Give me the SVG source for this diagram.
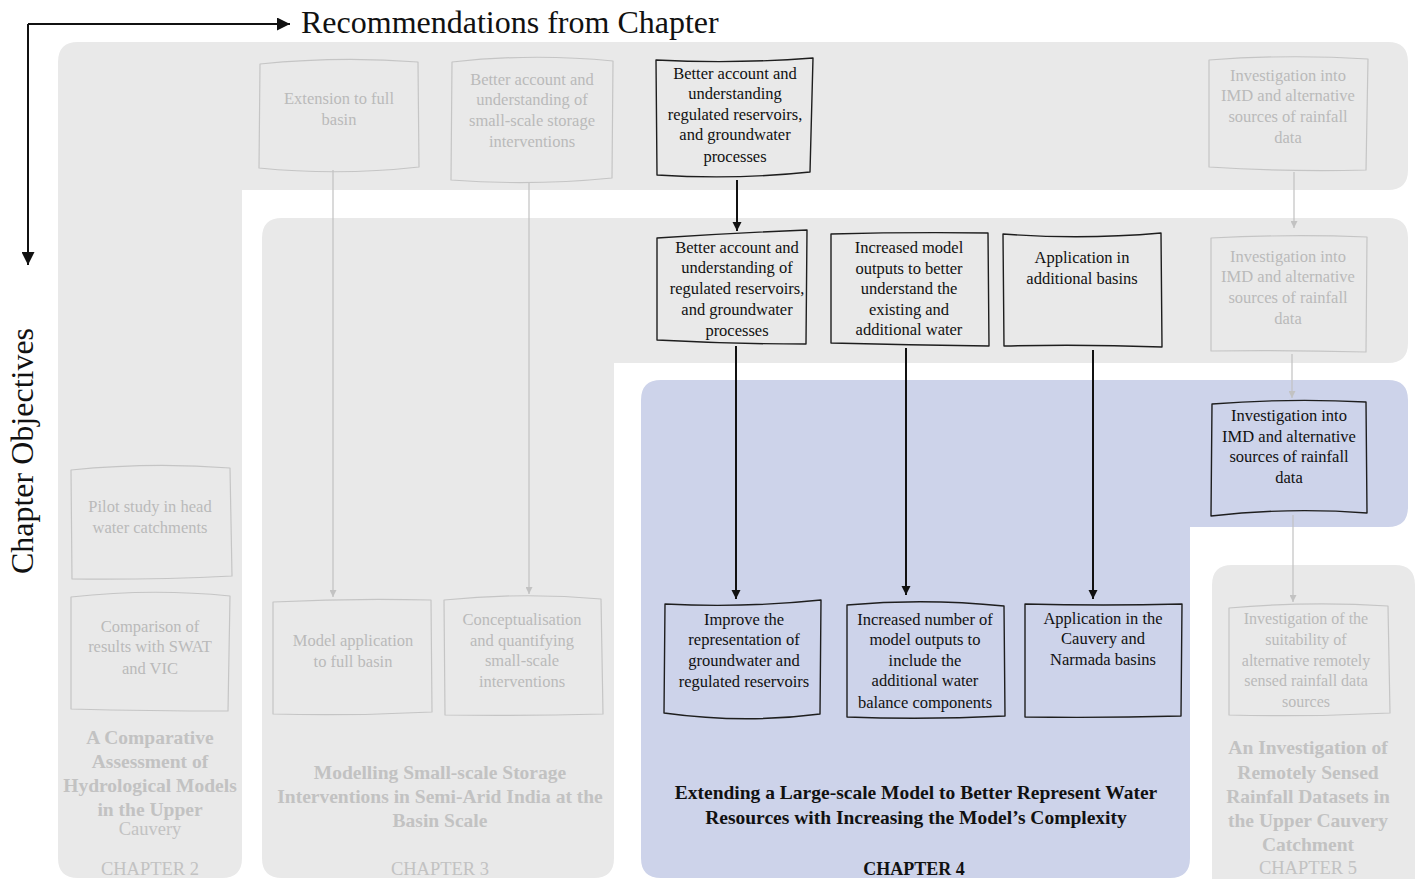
<svg xmlns="http://www.w3.org/2000/svg" width="1419" height="879" viewBox="0 0 1419 879">
  <defs>
    <style>
      .bg { fill: #e9e9e9; }
      .blue { fill: #cdd3ea; }
      .box { fill: none; stroke: #1e1e1e; stroke-width: 1.4; stroke-linejoin: round; }
      .fbox { fill: none; stroke: #c5c5c5; stroke-width: 1.2; stroke-linejoin: round; }
      .t { font-family: 'Liberation Serif', 'Times New Roman', serif; font-size: 16.5px; fill: #111; text-anchor: middle; }
      .ft { font-family: 'Liberation Serif', 'Times New Roman', serif; font-size: 16.5px; fill: #bababa; text-anchor: middle; }
      .ttl { font-family: 'Liberation Serif', 'Times New Roman', serif; font-size: 19.5px; font-weight: bold; fill: #111; text-anchor: middle; }
      .fttl { font-family: 'Liberation Serif', 'Times New Roman', serif; font-size: 19.5px; font-weight: bold; fill: #c2c2c2; text-anchor: middle; }
      .fch { font-family: 'Liberation Serif', 'Times New Roman', serif; font-size: 18.5px; fill: #c2c2c2; text-anchor: middle; }
      .axis { font-family: 'Liberation Serif', 'Times New Roman', serif; font-size: 32px; fill: #111; }
      .dk { stroke: #111; stroke-width: 2; fill: none; }
      .fd { stroke: #c2c2c2; stroke-width: 1.2; fill: none; }
    </style>
    <marker id="hd" viewBox="0 0 10 10" refX="10" refY="5" markerWidth="9" markerHeight="10" markerUnits="userSpaceOnUse" orient="auto">
      <path d="M0,0 L10,5 L0,10 Z" fill="#111"/>
    </marker>
    <marker id="hf" viewBox="0 0 10 10" refX="10" refY="5" markerWidth="7" markerHeight="7" markerUnits="userSpaceOnUse" orient="auto">
      <path d="M0,0 L10,5 L0,10 Z" fill="#c2c2c2"/>
    </marker>
    <marker id="ha" viewBox="0 0 10 10" refX="10" refY="5" markerWidth="14" markerHeight="13" markerUnits="userSpaceOnUse" orient="auto">
      <path d="M0,0 L10,5 L0,10 Z" fill="#111"/>
    </marker>
  </defs>

  <rect width="1419" height="879" fill="#ffffff"/>

  <!-- chapter bands: recommendation row + objective column -->
  <g id="band-ch2">
    <path class="bg" d="M78,42 H1388 Q1408,42 1408,62 V170 Q1408,190 1388,190 H242 V858 Q242,878 222,878 H78 Q58,878 58,858 V62 Q58,42 78,42 Z"/>
  </g>
  <g id="band-ch3">
    <path class="bg" d="M282,218 H1388 Q1408,218 1408,238 V343 Q1408,363 1388,363 H614 V858 Q614,878 594,878 H282 Q262,878 262,858 V238 Q262,218 282,218 Z"/>
  </g>
  <g id="band-ch4">
    <path class="blue" d="M661,380 H1388 Q1408,380 1408,400 V507 Q1408,527 1388,527 H1190 V858 Q1190,878 1170,878 H661 Q641,878 641,858 V400 Q641,380 661,380 Z"/>
  </g>
  <g id="band-ch5">
    <path class="bg" d="M1232,565 H1395 Q1415,565 1415,585 V879 H1212 V585 Q1212,565 1232,565 Z"/>
  </g>

  <!-- axes -->
  <g id="axes">
    <path class="dk" d="M28,24 H290" marker-end="url(#ha)"/>
    <path class="dk" d="M28,24 V265" marker-end="url(#ha)"/>
    <text class="axis" x="301" y="33">Recommendations from Chapter</text>
    <text class="axis" transform="translate(33,451) rotate(-90)" text-anchor="middle">Chapter Objectives</text>
  </g>

  <!-- connectors -->
  <g id="connectors">
    <path class="fd" d="M333,170 V597" marker-end="url(#hf)"/>
    <path class="fd" d="M529,182 V594" marker-end="url(#hf)"/>
    <path class="fd" d="M1294,172 V228" marker-end="url(#hf)"/>
    <path class="fd" d="M1292,354 V398" marker-end="url(#hf)"/>
    <path class="fd" d="M1293,515 V602" marker-end="url(#hf)"/>
    <path class="dk" d="M737,180 V231" marker-end="url(#hd)"/>
    <path class="dk" d="M736,346 V599" marker-end="url(#hd)"/>
    <path class="dk" d="M906,348 V595" marker-end="url(#hd)"/>
    <path class="dk" d="M1093,350 V599" marker-end="url(#hd)"/>
  </g>

  <!-- recommendations from chapter 2 -->
  <g id="rec2-full-basin">
    <path class="fbox" d="M260,64 Q339,56 418,62 L419,167 Q339,176 259,168 Z"/>
    <text class="ft" x="339" y="104">Extension to full</text>
    <text class="ft" x="339" y="125">basin</text>
  </g>
  <g id="rec2-storage">
    <path class="fbox" d="M452,62 Q532,53 613,61 L612,178 Q532,186 451,180 Z"/>
    <text class="ft" x="532" y="85">Better account and</text>
    <text class="ft" x="532" y="105">understanding of</text>
    <text class="ft" x="532" y="126">small-scale storage</text>
    <text class="ft" x="532" y="147">interventions</text>
  </g>
  <g id="rec2-reservoirs">
    <path class="box" d="M656,60 Q735,64 813,58 L810,172 Q735,180 657,175 Z"/>
    <text class="t" x="735" y="79">Better account and</text>
    <text class="t" x="735" y="99">understanding</text>
    <text class="t" x="735" y="120">regulated reservoirs,</text>
    <text class="t" x="735" y="140">and groundwater</text>
    <text class="t" x="735" y="162">processes</text>
  </g>
  <g id="rec2-rainfall">
    <path class="fbox" d="M1209,60 Q1288,54 1368,59 L1366,170 Q1288,172 1209,167 Z"/>
    <text class="ft" x="1288" y="81">Investigation into</text>
    <text class="ft" x="1288" y="101">IMD and alternative</text>
    <text class="ft" x="1288" y="122">sources of rainfall</text>
    <text class="ft" x="1288" y="143">data</text>
  </g>

  <!-- recommendations from chapter 3 -->
  <g id="rec3-reservoirs">
    <path class="box" d="M657,238 Q731,233 807,230 L806,344 Q731,344 657,340 Z"/>
    <text class="t" x="737" y="253">Better account and</text>
    <text class="t" x="737" y="273">understanding of</text>
    <text class="t" x="737" y="294">regulated reservoirs,</text>
    <text class="t" x="737" y="315">and groundwater</text>
    <text class="t" x="737" y="336">processes</text>
  </g>
  <g id="rec3-outputs">
    <path class="box" d="M831,234 Q909,232 988,233 L989,346 Q909,345 831,343 Z"/>
    <text class="t" x="909" y="253">Increased model</text>
    <text class="t" x="909" y="274">outputs to better</text>
    <text class="t" x="909" y="294">understand the</text>
    <text class="t" x="909" y="315">existing and</text>
    <text class="t" x="909" y="335">additional water</text>
  </g>
  <g id="rec3-basins">
    <path class="box" d="M1003,234 Q1082,240 1161,233 L1162,347 Q1082,344 1004,346 Z"/>
    <text class="t" x="1082" y="263">Application in</text>
    <text class="t" x="1082" y="284">additional basins</text>
  </g>
  <g id="rec3-rainfall">
    <path class="fbox" d="M1211,238 Q1289,234 1367,237 L1366,352 Q1289,350 1211,351 Z"/>
    <text class="ft" x="1288" y="262">Investigation into</text>
    <text class="ft" x="1288" y="282">IMD and alternative</text>
    <text class="ft" x="1288" y="303">sources of rainfall</text>
    <text class="ft" x="1288" y="324">data</text>
  </g>

  <!-- recommendation from chapter 4 -->
  <g id="rec4-rainfall">
    <path class="box" d="M1212,404 Q1289,398 1366,402 L1367,513 Q1289,507 1211,516 Z"/>
    <text class="t" x="1289" y="421">Investigation into</text>
    <text class="t" x="1289" y="442">IMD and alternative</text>
    <text class="t" x="1289" y="462">sources of rainfall</text>
    <text class="t" x="1289" y="483">data</text>
  </g>

  <!-- chapter 2 objectives -->
  <g id="ch2-pilot">
    <path class="fbox" d="M71,470 Q151,462 230,468 L232,576 Q151,580 72,579 Z"/>
    <text class="ft" x="150" y="512">Pilot study in head</text>
    <text class="ft" x="150" y="533">water catchments</text>
  </g>
  <g id="ch2-compare">
    <path class="fbox" d="M71,597 Q151,588 230,596 L228,711 Q151,711 71,709 Z"/>
    <text class="ft" x="150" y="632">Comparison of</text>
    <text class="ft" x="150" y="652">results with SWAT</text>
    <text class="ft" x="150" y="674">and VIC</text>
  </g>
  <g id="ch2-title">
    <text class="fttl" x="150" y="744">A Comparative</text>
    <text class="fttl" x="150" y="768">Assessment of</text>
    <text class="fttl" x="150" y="792">Hydrological Models</text>
    <text class="fttl" x="150" y="816">in the Upper</text>
    <text class="fch" x="150" y="835">Cauvery</text>
    <text class="fch" x="150" y="875">CHAPTER 2</text>
  </g>

  <!-- chapter 3 objectives -->
  <g id="ch3-full-basin">
    <path class="fbox" d="M273,602 Q352,598 431,600 L432,712 Q352,716 273,714 Z"/>
    <text class="ft" x="353" y="646">Model application</text>
    <text class="ft" x="353" y="667">to full basin</text>
  </g>
  <g id="ch3-storage">
    <path class="fbox" d="M444,600 Q523,592 601,599 L603,714 Q523,716 445,715 Z"/>
    <text class="ft" x="522" y="625">Conceptualisation</text>
    <text class="ft" x="522" y="646">and quantifying</text>
    <text class="ft" x="522" y="666">small-scale</text>
    <text class="ft" x="522" y="687">interventions</text>
  </g>
  <g id="ch3-title">
    <text class="fttl" x="440" y="779">Modelling Small-scale Storage</text>
    <text class="fttl" x="440" y="803">Interventions in Semi-Arid India at the</text>
    <text class="fttl" x="440" y="827">Basin Scale</text>
    <text class="fch" x="440" y="875">CHAPTER 3</text>
  </g>

  <!-- chapter 4 objectives -->
  <g id="ch4-groundwater">
    <path class="box" d="M665,604 Q744,608 821,600 L820,714 Q744,724 664,713 Z"/>
    <text class="t" x="744" y="625">Improve the</text>
    <text class="t" x="744" y="645">representation of</text>
    <text class="t" x="744" y="666">groundwater and</text>
    <text class="t" x="744" y="687">regulated reservoirs</text>
  </g>
  <g id="ch4-outputs">
    <path class="box" d="M847,605 Q925,598 1004,606 L1005,716 Q925,720 847,717 Z"/>
    <text class="t" x="925" y="625">Increased number of</text>
    <text class="t" x="925" y="645">model outputs to</text>
    <text class="t" x="925" y="666">include the</text>
    <text class="t" x="925" y="686">additional water</text>
    <text class="t" x="925" y="708">balance components</text>
  </g>
  <g id="ch4-basins">
    <path class="box" d="M1025,604 Q1103,606 1182,604 L1181,716 Q1103,718 1025,717 Z"/>
    <text class="t" x="1103" y="624">Application in the</text>
    <text class="t" x="1103" y="644">Cauvery and</text>
    <text class="t" x="1103" y="665">Narmada basins</text>
  </g>
  <g id="ch4-title">
    <text class="ttl" x="916" y="799">Extending a Large-scale Model to Better Represent Water</text>
    <text class="ttl" x="916" y="824">Resources with Increasing the Model’s Complexity</text>
    <text class="ttl" x="914" y="875" style="font-size:18px">CHAPTER 4</text>
  </g>

  <!-- chapter 5 objectives -->
  <g id="ch5-remote">
    <path class="fbox" d="M1229,608 Q1309,601 1388,606 L1390,713 Q1309,717 1229,715 Z"/>
    <text class="ft" x="1306" y="624" style="font-size:16px">Investigation of the</text>
    <text class="ft" x="1306" y="645" style="font-size:16px">suitability of</text>
    <text class="ft" x="1306" y="666" style="font-size:16px">alternative remotely</text>
    <text class="ft" x="1306" y="686" style="font-size:16px">sensed rainfall data</text>
    <text class="ft" x="1306" y="707" style="font-size:16px">sources</text>
  </g>
  <g id="ch5-title">
    <text class="fttl" x="1308" y="754">An Investigation of</text>
    <text class="fttl" x="1308" y="779">Remotely Sensed</text>
    <text class="fttl" x="1308" y="803">Rainfall Datasets in</text>
    <text class="fttl" x="1308" y="827">the Upper Cauvery</text>
    <text class="fttl" x="1308" y="851">Catchment</text>
    <text class="fch" x="1308" y="874">CHAPTER 5</text>
  </g>
</svg>
